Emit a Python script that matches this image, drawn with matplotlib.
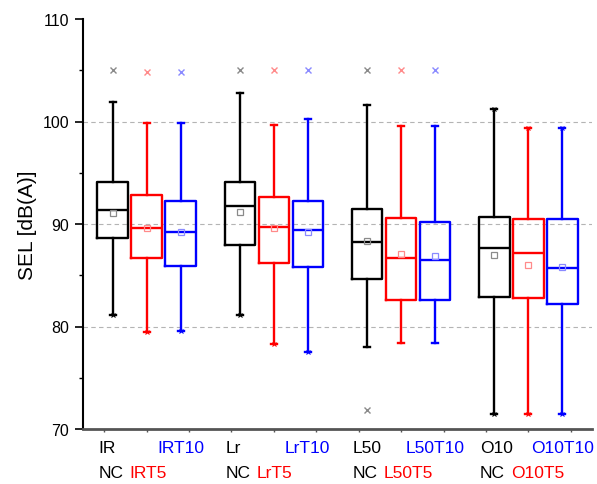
import numpy as np
import matplotlib
matplotlib.use('Agg')
import matplotlib.pyplot as plt
from matplotlib.ticker import MultipleLocator

plt.rcParams['font.family'] = ['Liberation Sans', 'DejaVu Sans']

# one entry per box, in plotting order
names = ['IR', 'IRT5', 'IRT10', 'Lr', 'LrT5', 'LrT10',
         'L50', 'L50T5', 'L50T10', 'O10', 'O10T5', 'O10T10']
whis_hi = [101.9, 99.9, 99.9, 102.8, 99.7, 100.2, 101.6, 99.55, 99.55, 101.2, 99.4, 99.4]
q3 = [94.1, 92.8, 92.25, 94.1, 92.6, 92.25, 91.45, 90.55, 90.15, 90.7, 90.45, 90.45]
med = [91.35, 89.6, 89.25, 91.8, 89.7, 89.45, 88.2, 86.7, 86.5, 87.65, 87.2, 85.75]
mean = [91.1, 89.6, 89.2, 91.2, 89.6, 89.25, 88.3, 87.05, 86.9, 87.0, 86.0, 85.8]
q1 = [88.6, 86.7, 85.95, 88.0, 86.2, 85.85, 84.65, 82.6, 82.6, 82.9, 82.8, 82.2]
whis_lo = [81.1, 79.45, 79.6, 81.1, 78.25, 77.5, 78.0, 78.4, 78.4, 71.45, 71.45, 71.45]
outliers = [[105.0], [104.8], [104.8], [105.0], [105.0], [105.0],
            [105.05, 71.9], [105.0], [105.0], [], [], []]
# x marks sitting on the whisker ends
end_marks = [[81.1], [79.45], [79.6], [81.1], [78.25], [77.5],
             [], [], [], [101.2, 71.45], [99.4, 71.45], [99.4, 71.45]]

colors = ['#000000', '#ff0000', '#0000ff']
light = ['#8a8a8a', '#ff8a8a', '#8a8aff']

group_x = [2, 5, 8, 11]
offsets = [-0.8, 0, 0.8]
positions = [g + d for g in group_x for d in offsets]

fig = plt.figure(figsize=(5.97, 4.85), dpi=100)
ax = fig.add_axes([83/597, 55/485, 509/597, 410/485])

for yv in [80, 90, 100]:
    ax.axhline(yv, color='#b4b4b4', lw=0.8, ls=(0, (4, 3)), zorder=0)

tr = ax.get_xaxis_transform()
nc_text = None
for i, name in enumerate(names):
    c = colors[i % 3]
    lc = light[i % 3]
    stats = [dict(med=med[i], q1=q1[i], q3=q3[i], whislo=whis_lo[i],
                  whishi=whis_hi[i], mean=mean[i], fliers=outliers[i], label=name)]
    ax.bxp(stats, positions=[positions[i]], widths=0.72, capwidths=0.14,
           showmeans=True, manage_ticks=False,
           boxprops=dict(color=c, lw=1.7),
           medianprops=dict(color=c, lw=1.7),
           whiskerprops=dict(color=c, lw=1.7),
           capprops=dict(color=c, lw=1.7),
           meanprops=dict(marker='s', markersize=4, markerfacecolor='none',
                          markeredgecolor=lc, markeredgewidth=0.9),
           flierprops=dict(marker='x', markersize=5, markeredgecolor=lc,
                           markeredgewidth=1.0))
    if end_marks[i]:
        ax.plot([positions[i]] * len(end_marks[i]), end_marks[i], ls='none',
                marker='x', markersize=3.5, markeredgecolor=c, markeredgewidth=0.8)

    # category labels under the axis: two rows, "NC <T5>" on the lower one
    if i % 3 == 0:
        ax.text(positions[i] - 0.34, -0.044, name, transform=tr, ha='left',
                va='center', fontsize=12.5, color=c)
        nc_text = ax.text(positions[i] - 0.34, -0.107, 'NC', transform=tr,
                          ha='left', va='center', fontsize=12.5, color=c)
    elif i % 3 == 1:
        ax.annotate(name, xy=(1, 0.5), xycoords=nc_text, xytext=(4.5, 0),
                    textcoords='offset points', ha='left', va='center',
                    fontsize=12.5, color=c)
    else:
        ax.text(positions[i], -0.044, name, transform=tr, ha='center',
                va='center', fontsize=12.5, color=c)

ax.set_xlim(0.5, 12.5)
ax.set_ylim(70, 110)
ax.yaxis.set_major_locator(MultipleLocator(10))
ax.yaxis.set_minor_locator(MultipleLocator(5))
ax.set_xticks(range(1, 13))
ax.set_xticklabels([])
ax.tick_params(axis='y', which='major', direction='out', length=6, width=1.2,
               labelsize=11.5, pad=4)
ax.tick_params(axis='y', which='minor', direction='out', length=3, width=1.0)
ax.tick_params(axis='x', direction='out', length=2, width=1.0, colors='#555555')

ax.spines['top'].set_visible(False)
ax.spines['right'].set_visible(False)
ax.spines['left'].set_linewidth(1.5)
ax.spines['bottom'].set_linewidth(2)
ax.spines['bottom'].set_color('#555555')

ax.set_ylabel('SEL [dB(A)]', fontsize=15, va='center')
ax.yaxis.set_label_coords(-0.11, 0.5)

fig.savefig('out.png', dpi=100)
